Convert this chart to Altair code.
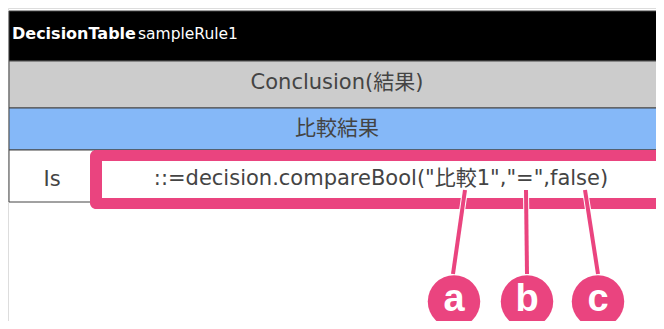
import altair as alt
import pandas as pd

# ---- content ----
title_bold = "DecisionTable"
title_name = "sampleRule1"
header_label = "Conclusion(結果)"
sub_label = "比較結果"
row_label = "Is"
row_value = '::=decision.compareBool("比較1","=",false)'
markers = ["a", "b", "c"]

# ---- layout (reference pixel coordinates) ----
X0, X1 = 9, 664
rows_df = pd.DataFrame({
    "name": ["title", "header", "sub", "row_is", "row_val"],
    "x": [X0, X0, X0, X0, 95],
    "x2": [X1, X1, X1, 95, X1],
    "y": [11, 61, 108, 150, 150],
    "y2": [61, 108, 150, 202, 202],
    "fill": ["#000000", "#cccccc", "#85b8f8", "#ffffff", "#ffffff"],
})

xs = alt.Scale(domain=[8, 656])
ys = alt.Scale(domain=[321, 8])

def X(f="x"):
    return alt.X(f"{f}:Q", scale=xs, axis=None)

def Y(f="y"):
    return alt.Y(f"{f}:Q", scale=ys, axis=None)

cells = alt.Chart(rows_df).mark_rect(stroke="#444444", strokeWidth=1).encode(
    x=X(), x2="x2:Q", y=Y(), y2="y2:Q",
    fill=alt.Fill("fill:N", scale=None),
)

FONT = "DejaVu Sans, Noto Sans CJK JP"
txt_df = pd.DataFrame({
    "label": [title_bold, title_name, header_label, sub_label, row_label, row_value],
    "x": [12, 138, 337, 337, 52, 381],
    "y": [34, 34, 83, 129, 180, 179],
    "kind": ["tb", "tn", "c", "c", "c", "code"],
})

t_title_b = alt.Chart(txt_df[txt_df.kind == "tb"]).mark_text(
    font=FONT, fontSize=16, fontWeight="bold", color="#ffffff", align="left", baseline="middle"
).encode(x=X(), y=Y(), text="label:N")
t_title_n = alt.Chart(txt_df[txt_df.kind == "tn"]).mark_text(
    font=FONT, fontSize=15.5, color="#ffffff", align="left", baseline="middle"
).encode(x=X(), y=Y(), text="label:N")
t_cells = alt.Chart(txt_df[txt_df.kind == "c"]).mark_text(
    font=FONT, fontSize=21, color="#444444", align="center", baseline="middle"
).encode(x=X(), y=Y(), text="label:N")

# pink highlight frame
frame_df = pd.DataFrame({"x": [90], "x2": [672], "y": [150], "y2": [209]})
inner_df = pd.DataFrame({"x": [102], "x2": [660], "y": [161], "y2": [198]})
PINK = "#ea447f"
frame = alt.Chart(frame_df).mark_rect(color=PINK, cornerRadius=6).encode(
    x=X(), x2="x2:Q", y=Y(), y2="y2:Q")
inner = alt.Chart(inner_df).mark_rect(color="#ffffff").encode(
    x=X(), x2="x2:Q", y=Y(), y2="y2:Q")
t_code = alt.Chart(txt_df[txt_df.kind == "code"]).mark_text(
    font=FONT, fontSize=21, color="#444444", align="center", baseline="middle"
).encode(x=X(), y=Y(), text="label:N")

# leader lines and markers
lead_df = pd.DataFrame({
    "m": markers,
    "x": [465, 526, 585],
    "y": [190, 190, 190],
    "x2": [453, 527, 598],
    "y2": [274, 274, 274],
})
leads_bg = alt.Chart(lead_df).mark_rule(color="#ffffff", strokeWidth=6).encode(
    x=X(), x2="x2:Q", y=Y(), y2="y2:Q")
leads = alt.Chart(lead_df).mark_rule(color=PINK, strokeWidth=4).encode(
    x=X(), x2="x2:Q", y=Y(), y2="y2:Q")

circ_df = pd.DataFrame({"m": markers, "x": [454, 527, 598], "y": [301.5, 301.5, 301.5]})
circles = alt.Chart(circ_df).mark_circle(color=PINK, opacity=1, size=2750).encode(
    x=X(), y=Y())
letters = alt.Chart(circ_df).mark_text(
    font="Liberation Sans", fontSize=38, fontWeight="bold", color="#ffffff",
    align="center", baseline="middle", dy=-2
).encode(x=X(), y=Y(), text="m:N")

chart = alt.layer(
    cells, t_title_b, t_title_n, t_cells, frame, inner, t_code,
    leads_bg, leads, circles, letters
).properties(
    width=648, height=313, padding=0, autosize=alt.AutoSizeParams(type="none")
).configure_view(strokeWidth=0).configure(background="#ffffff")

chart.save("out.html", embed_options={"renderer": "svg", "actions": False})
